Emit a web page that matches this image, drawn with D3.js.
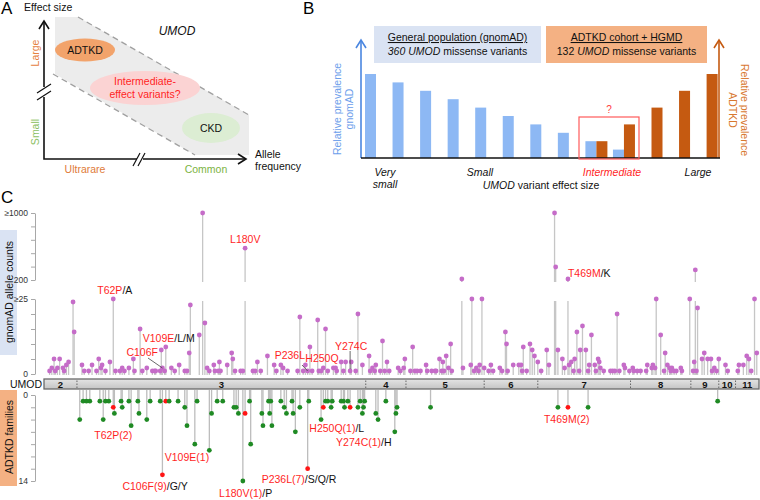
<!DOCTYPE html>
<html lang="en">
<head>
<meta charset="UTF-8">
<title>UMOD variants</title>
<style>
  body { margin:0; background:#fff; }
  #CHART { display:block; font-family:"Liberation Sans", Arial, sans-serif; }
  #CHART .tick text { font-size:8.5px; fill:#333; }
  #CHART .axis path, #CHART .axis line { stroke:#a8a8a8; }
</style>
</head>
<body>
<svg id="CHART" width="760" height="500"></svg>
<script src="https://cdnjs.cloudflare.com/ajax/libs/d3/7.8.5/d3.min.js"></script>
<script>
// ---------- data ----------
// panel B: relative prevalence per effect-size slot
var effectSlots = d3.range(13);
var gnomadPrev = [10, 9, 8, 7, 6, 5, 4, 3, 2, 1, 0, 0, 0];
var adtkdPrev  = [0, 0, 0, 0, 0, 0, 0, 0, 2, 4, 6, 8, 10];

// panel C: UMOD exons (end position, amino acids)
var exonNames = ["2", "3", "4", "5", "6", "7", "8", "9", "10", "11"];
var exonEnds  = [29.5, 288, 324, 394, 442, 525, 579, 604, 619, 640];

// gnomAD allele counts [aa position, count]
var gnomadAC = [
  [5,1],[7,2],[9,5],[10,1],[12,2],[14,5],[17,2],[18,1],[20,3],[22,4],[26,24],[27,14],
  [34,3],[36,1],[40,1],[43,3],[47,1],[49,5],[51,2],[52,3],[55,1],[59,4],[62,25],[64,1],
  [68,1],[70,2],[72,1],[76,2],[80,5],[81,1],[86,15],[88,1],[92,2],[97,1],[99,1],[100,1],
  [104,1],[105,8],[106,2],[108,1],[109,9],[114,2],[117,1],[121,3],[126,1],[128,1],[130,7],
  [131,23],[139,13],[142,1000],[144,17],[146,2],[148,1],[152,3],[153,1],[156,1],[157,4],
  [158,1],[164,3],[168,7],[169,5],[171,1],[176,1],[178,1],[180,580],[187,1],[189,1],[191,4],
  [194,1],[200,6],[206,3],[208,1],[212,3],[214,2],[218,1],[227,1],[229,19],[232,1],[234,3],
  [236,1],[238,9],[240,1],[245,18],[246,1],[248,1],[250,2],[252,15],[254,1],[259,2],[261,2],
  [262,1],[266,4],[268,1],[270,4],[274,1],[275,4],[279,1],[281,20],[285,3],[291,6],[292,1],
  [294,2],[296,1],[297,3],[301,1],[303,11],[305,1],[307,4],[309,1],[317,2],[319,1],[322,2],
  [323,5],[328,1],[330,9],[332,1],[334,1],[337,1],[342,3],[343,1],[347,1],[350,1],[351,1],
  [354,5],[356,1],[357,4],[358,1],[360,6],[362,2],[364,10],[365,1],[374,212],[375,2],[382,3],
  [383,25],[385,1],[387,2],[389,1],[390,3],[392,25],[394,2],[398,1],[400,3],[402,1],[408,2],
  [410,1],[413,14],[414,10],[415,1],[420,3],[425,3],[427,3],[428,1],[429,9],[432,1],[435,10],
  [437,8],[439,6],[442,4],[445,1],[450,8],[452,3],[457,1000],[458,355],[460,8],[464,5],[466,2],
  [469,212],[470,3],[472,4],[474,1],[475,5],[477,14],[479,1],[480,8],[482,16],[485,8],[487,1],
  [488,3],[490,13],[493,3],[494,1],[496,5],[497,4],[498,2],[501,1],[507,1],[509,1],[511,1],
  [513,20],[515,1],[519,3],[520,2],[524,1],[527,2],[528,1],[531,1],[534,1],[539,1],[540,3],
  [544,2],[545,3],[547,2],[548,25],[552,13],[555,1],[556,7],[558,3],[560,2],[561,1],[562,2],
  [564,1],[566,1],[570,2],[571,1],[578,25],[581,1],[582,4],[583,320],[584,1],[585,22],[589,5],
  [591,7],[594,5],[597,5],[598,1],[600,2],[602,1],[604,5],[610,3],[612,1],[621,1],[622,3],
  [626,3],[629,6],[631,5],[633,1],[636,25],[638,7]
];

// ADTKD families [aa position, families]
var adtkdFam = [
  [32,4],[35,1],[38,1],[41,1],[50,1],[53,4],[55,1],[58,1],[62,2],[63,3],[69,1],[70,2],
  [76,1],[78,5],[84,1],[85,3],[92,4],[95,1],[104,1],[106,13],[109,1],[112,1],[120,1],
  [126,2],[128,5],[135,8],[137,1],[148,9],[150,3],[155,1],[160,1],[170,2],[172,2],[174,3],
  [178,14],[180,3],[184,1],[185,8],[195,3],[196,5],[201,1],[202,3],[203,1],[204,5],[212,1],
  [215,2],[217,3],[222,1],[223,3],[225,6],[229,2],[236,12],[237,1],[248,4],[250,2],[252,1],
  [254,1],[257,2],[258,1],[266,1],[268,1],[269,2],[272,1],[274,2],[281,2],[283,1],[285,3],
  [286,2],[287,1],[297,3],[299,4],[306,1],[314,6],[315,3],[316,2],[346,2],[460,2],[469,2],
  [487,2],[603,1]
];
var highlighted = [62, 106, 109, 180, 236, 250, 274, 469];

var gnomadLabels = [
  { pos:62,  red:"T62P",  black:"/A" },
  { pos:180, red:"L180V", black:"" },
  { pos:109, red:"V109E", black:"/L/M" },
  { pos:106, red:"C106F", black:"" },
  { pos:236, red:"P236L", black:"" },
  { pos:250, red:"H250Q", black:"" },
  { pos:274, red:"Y274C", black:"" },
  { pos:469, red:"T469M", black:"/K" }
];
var familyLabels = [
  { pos:62,  red:"T62P(2)",  black:"" },
  { pos:109, red:"V109E(1)", black:"" },
  { pos:106, red:"C106F(9)", black:"/G/Y" },
  { pos:180, red:"L180V(1)", black:"/P" },
  { pos:236, red:"P236L(7)", black:"/S/Q/R" },
  { pos:250, red:"H250Q(1)", black:"/L" },
  { pos:274, red:"Y274C(1)", black:"/H" },
  { pos:469, red:"T469M(2)", black:"" }
];

// ---------- helpers ----------
var RED = "#ff1f1f";
var svg = d3.select("#CHART");

function richText(g, x, y, parts, size, anchor) {
  var t = g.append("text").attr("x", x).attr("y", y)
    .attr("font-size", size).attr("text-anchor", anchor || "start");
  parts.forEach(function(p){
    var s = t.append("tspan").text(p.t).attr("fill", p.c || "#111");
    if (p.i) s.attr("font-style", "italic");
    if (p.u) s.attr("text-decoration", "underline");
  });
  return t;
}
function chevronUp(g, x, y, col) {
  g.append("path").attr("d", "M" + (x-5) + "," + (y+8) + "L" + x + "," + y + "L" + (x+5) + "," + (y+8))
    .attr("fill", "none").attr("stroke", col).attr("stroke-width", 1.6);
}

/******** panel A ********/
var A = svg.append("g");
A.append("text").text("A").attr("x", 1).attr("y", 14).attr("font-size", 17);
A.append("text").text("Effect size").attr("x", 24).attr("y", 11).attr("font-size", 10.5).attr("fill", "#111");

A.append("polygon").attr("points", "55,17 78,17 249,115 249,155 195,155 55,74").attr("fill", "#ececec");
A.append("line").attr("x1", 78).attr("y1", 17).attr("x2", 249).attr("y2", 115)
  .attr("stroke", "#a0a0a0").attr("stroke-width", 1.3).attr("stroke-dasharray", "6,4");
A.append("line").attr("x1", 53).attr("y1", 74).attr("x2", 195).attr("y2", 155)
  .attr("stroke", "#a0a0a0").attr("stroke-width", 1.3).attr("stroke-dasharray", "6,4");

A.append("ellipse").attr("cx", 85).attr("cy", 50).attr("rx", 30).attr("ry", 11.5).attr("fill", "#f2a36b");
A.append("text").text("ADTKD").attr("x", 85).attr("y", 54).attr("text-anchor", "middle").attr("font-size", 10.5).attr("fill", "#111");
A.append("ellipse").attr("cx", 145).attr("cy", 88).attr("rx", 55).attr("ry", 17).attr("fill", "#fbd3d3");
A.append("text").text("Intermediate-").attr("x", 145).attr("y", 85).attr("text-anchor", "middle").attr("font-size", 10.5).attr("fill", RED);
A.append("text").text("effect variants?").attr("x", 145).attr("y", 98).attr("text-anchor", "middle").attr("font-size", 10.5).attr("fill", RED);
A.append("ellipse").attr("cx", 211).attr("cy", 128).attr("rx", 29).attr("ry", 15).attr("fill", "#dcedd3");
A.append("text").text("CKD").attr("x", 211).attr("y", 132).attr("text-anchor", "middle").attr("font-size", 10.5).attr("fill", "#111");
A.append("text").text("UMOD").attr("x", 177).attr("y", 35).attr("text-anchor", "middle")
  .attr("font-size", 12).attr("font-style", "italic").attr("fill", "#111");

// axes with breaks
A.append("path").attr("d", "M44,21V87M44,97V159H137M143,159H246").attr("fill", "none").attr("stroke", "#111").attr("stroke-width", 1.6);
chevronUp(A, 44, 21, "#111");
A.append("path").attr("d", "M238,154L246,159L238,164").attr("fill", "none").attr("stroke", "#111").attr("stroke-width", 1.6);
A.append("path").attr("d", "M37,93L51,84M37,100L51,91M133,166L140,153M138,166L145,153")
  .attr("fill", "none").attr("stroke", "#111").attr("stroke-width", 1.2);

A.append("text").text("Large").attr("transform", "translate(35,53) rotate(-90)").attr("text-anchor", "middle")
  .attr("dominant-baseline", "central").attr("font-size", 10.5).attr("fill", "#e5823f");
A.append("text").text("Small").attr("transform", "translate(35,132) rotate(-90)").attr("text-anchor", "middle")
  .attr("dominant-baseline", "central").attr("font-size", 10.5).attr("fill", "#8cc063");
A.append("text").text("Ultrarare").attr("x", 85).attr("y", 173).attr("text-anchor", "middle").attr("font-size", 10.5).attr("fill", "#e07b39");
A.append("text").text("Common").attr("x", 206).attr("y", 173).attr("text-anchor", "middle").attr("font-size", 10.5).attr("fill", "#7cb342");
A.append("text").text("Allele").attr("x", 255).attr("y", 158).attr("font-size", 10.5).attr("fill", "#111");
A.append("text").text("frequency").attr("x", 255).attr("y", 170).attr("font-size", 10.5).attr("fill", "#111");

/******** panel B ********/
var B = svg.append("g");
B.append("text").text("B").attr("x", 303).attr("y", 14).attr("font-size", 17);

B.append("rect").attr("x", 374).attr("y", 26).attr("width", 167).attr("height", 37).attr("fill", "#dae3f3");
richText(B, 457.5, 41, [{t:"General population (gnomAD)", u:true}], 10.5, "middle");
richText(B, 457.5, 55, [{t:"360 ", i:true}, {t:"UMOD", i:true}, {t:" missense variants"}], 10.5, "middle");
B.append("rect").attr("x", 546).attr("y", 26).attr("width", 161).attr("height", 37).attr("fill", "#f4b183");
richText(B, 626.5, 41, [{t:"ADTKD cohort + HGMD", u:true}], 10.5, "middle");
richText(B, 626.5, 55, [{t:"132 "}, {t:"UMOD", i:true}, {t:" missense variants"}], 10.5, "middle");

var xB = d3.scaleBand().domain(effectSlots).range([365, 717.6]).paddingInner(0.2015).paddingOuter(0);
var yB = d3.scaleLinear().domain([0, 10]).range([158, 74]);
var half = xB.bandwidth() / 2;

B.append("g").selectAll("rect").data(effectSlots.filter(function(i){ return gnomadPrev[i] > 0; }))
  .join("rect")
  .attr("x", function(i){ return xB(i); })
  .attr("y", function(i){ return yB(gnomadPrev[i]); })
  .attr("width", half)
  .attr("height", function(i){ return yB(0) - yB(gnomadPrev[i]); })
  .attr("fill", "#8db8f4");
B.append("g").selectAll("rect").data(effectSlots.filter(function(i){ return adtkdPrev[i] > 0; }))
  .join("rect")
  .attr("x", function(i){ return xB(i) + half; })
  .attr("y", function(i){ return yB(adtkdPrev[i]); })
  .attr("width", half)
  .attr("height", function(i){ return yB(0) - yB(adtkdPrev[i]); })
  .attr("fill", "#c55a11");

B.append("line").attr("x1", 361).attr("x2", 361).attr("y1", 40).attr("y2", 158).attr("stroke", "#4a86e0").attr("stroke-width", 1.6);
chevronUp(B, 361, 40, "#4a86e0");
B.append("line").attr("x1", 719).attr("x2", 719).attr("y1", 40).attr("y2", 158).attr("stroke", "#c55a11").attr("stroke-width", 1.6);
chevronUp(B, 719, 40, "#c55a11");
B.append("line").attr("x1", 361).attr("x2", 720).attr("y1", 158).attr("y2", 158).attr("stroke", "#111").attr("stroke-width", 1.6);

B.append("rect").attr("x", 579).attr("y", 117).attr("width", 60).attr("height", 42)
  .attr("fill", "none").attr("stroke", "#ff5a5a").attr("stroke-width", 1.2);
B.append("text").text("?").attr("x", 609).attr("y", 113).attr("text-anchor", "middle").attr("font-size", 10).attr("fill", "#ff4040");

B.append("text").text("Relative prevalence").attr("transform", "translate(337,109) rotate(-90)")
  .attr("text-anchor", "middle").attr("dominant-baseline", "central").attr("font-size", 10.5).attr("fill", "#6d9eeb");
B.append("text").text("gnomAD").attr("transform", "translate(349,109) rotate(-90)")
  .attr("text-anchor", "middle").attr("dominant-baseline", "central").attr("font-size", 10.5).attr("fill", "#6d9eeb");
B.append("text").text("Relative prevalence").attr("transform", "translate(745,110) rotate(90)")
  .attr("text-anchor", "middle").attr("dominant-baseline", "central").attr("font-size", 10.5).attr("fill", "#d8782f");
B.append("text").text("ADTKD").attr("transform", "translate(733,110) rotate(90)")
  .attr("text-anchor", "middle").attr("dominant-baseline", "central").attr("font-size", 10.5).attr("fill", "#d8782f");

richText(B, 385, 176, [{t:"Very", i:true}], 10.5, "middle");
richText(B, 385, 188, [{t:"small", i:true}], 10.5, "middle");
richText(B, 480, 176, [{t:"Small", i:true}], 10.5, "middle");
richText(B, 612, 176, [{t:"Intermediate", i:true, c:RED}], 10.5, "middle");
richText(B, 698, 176, [{t:"Large", i:true}], 10.5, "middle");
richText(B, 541, 189, [{t:"UMOD", i:true}, {t:" variant effect size"}], 10.5, "middle");

/******** panel C ********/
var C = svg.append("g");
C.append("text").text("C").attr("x", 1).attr("y", 203).attr("font-size", 17);

var x = d3.scaleLinear().domain([0, 640]).range([44, 759]);
var yLow = d3.scaleLinear().domain([0, 25]).range([374, 299]);
var yHigh = d3.scaleLinear().domain([200, 1000]).range([280, 213]);
var yG = function(v){ return v <= 25 ? yLow(v) : yHigh(v); };
var yF = d3.scaleLinear().domain([0, 14]).range([395, 481]);
var BASE = 375, GAP_TOP = 282, GAP_BOT = 301;

// axis title boxes
C.append("rect").attr("x", 0).attr("y", 230).attr("width", 17).attr("height", 125).attr("fill", "#dae3f3");
C.append("text").text("gnomAD allele counts").attr("transform", "translate(9,292) rotate(-90)")
  .attr("text-anchor", "middle").attr("dominant-baseline", "central").attr("font-size", 10.5).attr("fill", "#111");
C.append("rect").attr("x", 0).attr("y", 390).attr("width", 17).attr("height", 96).attr("fill", "#f4b183");
C.append("text").text("ADTKD families").attr("transform", "translate(9,437) rotate(-90)")
  .attr("text-anchor", "middle").attr("dominant-baseline", "central").attr("font-size", 10.5).attr("fill", "#111");

// y axes
var fmtTop = function(v){ return v === 1000 ? "\u22651000" : v === 200 ? "200" : ""; };
var fmtLow = function(v){ return v === 25 ? "\u226525" : v === 0 ? "0" : ""; };
C.append("g").attr("class", "axis").attr("transform", "translate(35,0)")
  .call(d3.axisLeft(yHigh).tickValues([200, 360, 520, 680, 840, 1000]).tickSize(4).tickSizeOuter(0).tickFormat(fmtTop));
C.append("g").attr("class", "axis").attr("transform", "translate(35,0)")
  .call(d3.axisLeft(yLow).tickValues([0, 5, 10, 15, 20, 25]).tickSize(4).tickSizeOuter(0).tickFormat(fmtLow));
C.append("g").attr("class", "axis").attr("transform", "translate(35,0)")
  .call(d3.axisLeft(yF).tickValues(d3.range(0, 15, 2)).tickSize(4).tickSizeOuter(0)
    .tickFormat(function(v){ return (v === 0 || v === 14) ? v : ""; }));

// gnomAD stems and dots
var stems = C.append("g").attr("stroke", "#c6c6c6").attr("stroke-width", 1.3);
gnomadAC.forEach(function(d){
  var px = x(d[0]);
  if (d[1] > 25) {
    stems.append("line").attr("x1", px).attr("x2", px).attr("y1", yG(d[1])).attr("y2", GAP_TOP);
    stems.append("line").attr("x1", px).attr("x2", px).attr("y1", GAP_BOT).attr("y2", BASE);
  } else {
    stems.append("line").attr("x1", px).attr("x2", px).attr("y1", yG(d[1])).attr("y2", BASE);
  }
});
C.append("g").selectAll("circle").data(gnomadAC).join("circle")
  .attr("cx", function(d){ return x(d[0]); })
  .attr("cy", function(d){ return yG(d[1]); })
  .attr("r", 2.4).attr("fill", "#c56cc8");

// gene bar
var grad = svg.append("defs").append("linearGradient").attr("id", "barGrad").attr("x1", 0).attr("x2", 0).attr("y1", 0).attr("y2", 1);
grad.append("stop").attr("offset", "0%").attr("stop-color", "#e4e4e4");
grad.append("stop").attr("offset", "100%").attr("stop-color", "#c4c4c4");
C.append("rect").attr("x", x(0)).attr("y", 379).attr("width", x(640) - x(0)).attr("height", 10)
  .attr("fill", "url(#barGrad)").attr("stroke", "#6a6a6a").attr("stroke-width", 1.3);
C.append("g").selectAll("line").data(exonEnds.slice(0, -1)).join("line")
  .attr("x1", function(d){ return x(d); }).attr("x2", function(d){ return x(d); })
  .attr("y1", 380.5).attr("y2", 388)
  .attr("stroke", "#666").attr("stroke-width", 1).attr("stroke-dasharray", "1.5,1.5");
C.append("g").selectAll("text").data(exonNames).join("text")
  .attr("x", function(d, i){ return x(((i ? exonEnds[i - 1] : 0) + exonEnds[i]) / 2); })
  .attr("y", 387.5).attr("text-anchor", "middle").attr("font-size", 9.5).attr("font-weight", "bold")
  .attr("fill", "#111").text(function(d){ return d; });
C.append("text").text("UMOD").attr("x", 42).attr("y", 388).attr("text-anchor", "end").attr("font-size", 10.5).attr("fill", "#111");

// ADTKD stems and dots
C.append("g").attr("stroke", "#bdbdbd").attr("stroke-width", 1.3)
  .selectAll("line").data(adtkdFam).join("line")
  .attr("x1", function(d){ return x(d[0]); }).attr("x2", function(d){ return x(d[0]); })
  .attr("y1", 390).attr("y2", function(d){ return yF(d[1]); });
C.append("g").selectAll("circle").data(adtkdFam).join("circle")
  .attr("cx", function(d){ return x(d[0]); })
  .attr("cy", function(d){ return yF(d[1]); })
  .attr("r", 2.4)
  .attr("fill", function(d){ return highlighted.indexOf(d[0]) >= 0 ? "#ff1414" : "#1f8a24"; });

// variant labels (offset from variant position, baseline y)
var topLayout = { 62:[-16,294], 180:[-15,243], 109:[-23,342], 106:[-36,356], 236:[-33,359], 250:[-18,362], 274:[-15,350], 469:[0,277] };
var botLayout = { 62:[-19,439], 109:[-1,461], 106:[-40,490], 180:[-26,497], 236:[-46,483], 250:[-14,432], 274:[-14,446], 469:[-24,423] };
gnomadLabels.forEach(function(l){
  var o = topLayout[l.pos];
  richText(C, x(l.pos) + o[0], o[1], [{t:l.red, c:RED}, {t:l.black, c:"#111"}], 10.5);
});
familyLabels.forEach(function(l){
  var o = botLayout[l.pos];
  richText(C, x(l.pos) + o[0], o[1], [{t:l.red, c:RED}, {t:l.black, c:"#111"}], 10.5);
});
// leader lines
var lead = C.append("g").attr("stroke", "#444").attr("stroke-width", 0.8);
lead.append("line").attr("x1", 148).attr("y1", 358).attr("x2", x(106)).attr("y2", 368);
lead.append("line").attr("x1", 302).attr("y1", 365).attr("x2", x(236)).attr("y2", 371);
lead.append("line").attr("x1", x(274)).attr("y1", 351).attr("x2", x(274)).attr("y2", 369);
</script>
</body>
</html>
